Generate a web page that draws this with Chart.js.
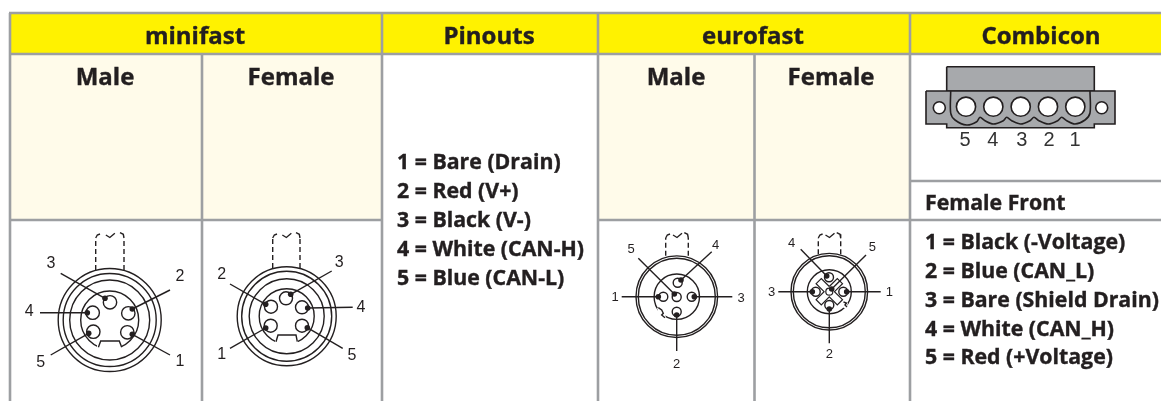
<!DOCTYPE html>
<html>
<head>
<meta charset="utf-8">
<title>Connector pinouts</title>
<script src="https://cdn.jsdelivr.net/npm/chart.js@4/dist/chart.umd.min.js"></script>
<style>
  html, body { margin: 0; padding: 0; background: #fff; }
  canvas { display: block; }
</style>
</head>
<body>
<canvas id="table" width="1161" height="401"></canvas>
<script>
// table text
var columnTitles = ["minifast", "Pinouts", "eurofast", "Combicon"];
var genderTitles = ["Male", "Female", "Male", "Female"];
var pinoutLines = ["1 = Bare (Drain)", "2 = Red (V+)", "3 = Black (V-)", "4 = White (CAN-H)", "5 = Blue (CAN-L)"];
var combiconTitle = "Female Front";
var combiconLines = ["1 = Black (-Voltage)", "2 = Blue (CAN_L)", "3 = Bare (Shield Drain)", "4 = White (CAN_H)", "5 = Red (+Voltage)"];
var combiconPins = ["5", "4", "3", "2", "1"];

// table rules, in the 1161x401 coordinate system of the scales
var titleX = [195, 489, 753, 1041];
var genderX = [105, 291, 676, 831];
var pinoutY = [169, 198, 227, 256, 285];
var combiconY = [249, 278, 307, 336, 364];
var ruleLines = [
    [[9, 13], [1161, 13]], [[9, 54], [1161, 54]],
    [[9, 220], [382, 220]], [[598, 220], [1161, 220]], [[910, 181], [1161, 181]],
    [[10, 13], [10, 401]], [[202, 54], [202, 401]], [[382, 13], [382, 401]],
    [[598, 13], [598, 401]], [[754.5, 54], [754.5, 401]], [[910, 13], [910, 401]]
];

// round connectors
var miniMale = {
    center: [109.7, 320], rings: [51.5, 46.5, 40, 29], pinR: 6.7,
    pins: [[127.3, 332.3], [128.3, 313.3], [110, 302.3], [92.7, 312.7], [93.3, 331.7]],
    dots: [[132.3, 334.3], [132.3, 309], [105, 298.3], [87.3, 312.7], [88.7, 333.3]],
    ends: [[170, 355], [170, 290], [60.7, 273.3], [40, 312.7], [50.7, 355]],
    labels: [[180, 362], [180, 277], [51, 264], [29.3, 312], [40.7, 363]], fontSize: 16,
    stem: [95.7, 124, 270, 238],
    gap: [[97, 344], [122, 344], [122, 352], [97, 352]],
    notch: [[98.4, 347.3], [100.7, 341], [119.3, 341], [121.7, 347.3]]
};
var miniFemale = {
    center: [286.7, 316.3], rings: [49.5, 45, 37.5, 27.5], pinR: 6.5,
    pins: [[270.7, 325.7], [271, 306.7], [286, 298.3], [302, 307.3], [302, 325.7]],
    dots: [[265.7, 328], [265.7, 304.3], [290.7, 294.3], [307.7, 308], [307.3, 327.7]],
    ends: [[230, 348.3], [230, 284], [331.7, 271], [352.7, 307.3], [342.7, 348.3]],
    labels: [[221.7, 354.3], [221.7, 275], [339.3, 262.3], [361, 307.7], [352, 355.7]], fontSize: 16,
    stem: [272.7, 300, 268, 238],
    gap: [[275, 339], [298, 339], [298, 347], [275, 347]],
    notch: [[276, 341.7], [278, 335], [296, 335], [297.3, 341.7]]
};
var euroMale = {
    center: [676.8, 296.7], rings: [40.8, 38.5, 22.7], pinR: 4.5,
    pins: [[663.3, 296.7], [676.7, 311.7], [691.7, 296.7], [677.7, 282.7], [676.7, 297]],
    dots: [[658.3, 296.7], [676.7, 315], [694.3, 296.7], [681, 280], [674.3, 294]],
    ends: [[621.7, 296.7], [676.7, 351], [732.3, 296.7], [711.7, 251.7], [638.3, 258.3]],
    labels: [[615, 297], [676.7, 364], [741, 298], [715.7, 245], [631, 249.3]], fontSize: 13,
    stem: [665.7, 688.3, 255.7, 238],
    gap: [[657, 308], [664, 308], [666, 318], [659, 315]],
    notch: [[658.3, 307.7], [661.7, 310], [663.3, 313.3], [661.7, 315], [665, 317.7]]
};
var euroFemale = {
    center: [829.3, 291.7], rings: [38.3, 36, 22], pinR: 4.5,
    pins: [[843.3, 291.7], [829.3, 305], [815.7, 291.7], [829, 277.3]],
    dots: [[846.7, 291.7], [829.3, 309], [812.3, 291.7], [826.7, 276], [831.7, 289]],
    ends: [[880.7, 291.7], [829.3, 343.3], [778.3, 291.7], [800.7, 249.3], [866, 255]],
    labels: [[889.3, 292.3], [829.3, 354.3], [771.7, 292.3], [791.7, 243.3], [872.3, 247.3]], fontSize: 13,
    stem: [818.3, 840.7, 254.3, 238],
    gap: [[843, 300], [848, 303], [846, 309], [841, 306]],
    notch: [[843.5, 302], [846.5, 303], [845, 305], [847, 307]],
    cross: [[829.3, 286.5], [837.3, 278.5], [842.5, 283.7], [834.5, 291.7], [842.5, 299.7], [837.3, 304.9],
            [829.3, 296.9], [821.3, 304.9], [816.1, 299.7], [824.1, 291.7], [816.1, 283.7], [821.3, 278.5]],
    crossPin: [829.3, 291.7]
};
var roundConnectors = [miniMale, miniFemale, euroMale, euroFemale];

// combicon plug
var plugTop = [[946.7, 66.7], [1094.3, 66.7], [1094.3, 91], [946.7, 91]];
var plugBody = [[926, 91], [1115, 91], [1115, 124], [1094.3, 124], [1094.3, 127.7], [946.7, 127.7], [946.7, 124], [926, 124]];
var plugScallop = [[950.7, 91], [950.7, 113], [955, 120], [966.7, 125], [976.7, 121.7], [980, 117.3], [985, 120.7], [993.3, 124],
    [1003.3, 120.7], [1006.7, 117.3], [1011.7, 120.7], [1020.7, 124], [1030, 120.7], [1034, 117.3], [1039, 120.7], [1048.3, 124],
    [1057.7, 120.7], [1061.7, 117.3], [1066.7, 120.7], [1075, 124], [1085, 120], [1090, 113], [1090, 91]];
var plugHoles = [[966, 106.7], [993.3, 106.7], [1020.7, 106.7], [1048, 106.7], [1075.3, 106.7]];
var plugScrews = [[939.3, 107.7], [1101.7, 107.7]];
var plugLabelX = [965, 992.7, 1021.7, 1049, 1075];

var INK = "#231f20";
var RULE = "#9d9fa2";
var PEN = 1.4;

var datasets = [];
function xy(p) { return {x: p[0], y: p[1]}; }
function add(ds) {
    // a lower order is painted later, so each added set lands on top
    ds.order = -datasets.length;
    datasets.push(ds);
}
function line(points, color, width, dash, tension) {
    add({data: points.map(xy), showLine: true, pointRadius: 0, borderColor: color, borderWidth: width,
         borderDash: dash || [], tension: tension || 0, fill: false});
}
function shape(points, fillColor, stroke, width) {
    add({data: points.concat([points[0]]).map(xy), showLine: true, pointRadius: 0, tension: 0, fill: "shape",
         backgroundColor: fillColor, borderColor: stroke || "transparent", borderWidth: width || 0});
}
function circles(points, r, fillColor, stroke, width) {
    add({data: points.map(xy), showLine: false, pointStyle: "circle", pointRadius: r, pointBackgroundColor: fillColor,
         pointBorderColor: stroke, pointBorderWidth: width});
}
function box(x0, y0, x1, y1, color) {
    shape([[x0, y0], [x1, y0], [x1, y1], [x0, y1]], color);
}

box(10, 13, 1161, 54, "#fff200");
box(10, 54, 382, 220, "#fffbea");
box(598, 54, 910, 220, "#fffbea");
ruleLines.forEach(function(r) { line(r, RULE, 2.6); });

roundConnectors.forEach(function(c) {
    var s = c.stem;
    var mid = (s[0] + s[1]) / 2;
    var top = s[3];
    line([[s[0], s[2]], [s[0], top]], INK, PEN, [5, 3]);
    line([[s[1], s[2]], [s[1], top]], INK, PEN, [5, 3]);
    line([[s[0], top], [s[0] + 1.6, top - 3], [s[0] + 4.3, top - 4]], INK, PEN);
    line([[mid - 4, top - 3], [mid, top - 0.5], [mid + 5, top - 4.7]], INK, PEN);
    line([[s[1] - 4, top - 5.3], [s[1] - 0.7, top - 3.7], [s[1], top]], INK, PEN);

    circles([c.center], c.rings[0], "#fff", INK, PEN);
    c.rings.slice(1).forEach(function(r) { circles([c.center], r, "transparent", INK, PEN); });
    shape(c.gap, "#fff");
    line(c.notch, INK, PEN);
    if (c.cross) {
        shape(c.cross, "#fff", INK, 1.2);
    }
    circles(c.pins, c.pinR, "#fff", INK, PEN);
    if (c.crossPin) {
        circles([c.crossPin], 3.5, "#fff", INK, 1.2);
    }
    c.dots.forEach(function(d, i) { line([c.ends[i], d], INK, PEN); });
    circles(c.dots, 2.8, INK, INK, 0);
});

shape(plugTop, "#a7a9ac", INK, 1.6);
shape(plugBody, "#a7a9ac", INK, 1.6);
line(plugScallop, INK, 1.6, null, 0.3);
circles(plugHoles, 9.6, "#fff", INK, 1.6);
circles(plugScrews, 6, "#fff", INK, 1.6);

// text goes on after the marks, placed through the same scales
var HEAD_FONT = '"Open Sans", "Noto Sans", sans-serif';
var PIN_FONT = '"Liberation Sans", Arial, sans-serif';
var textPlugin = {
    id: "tableText",
    afterDatasetsDraw: function(chart) {
        var ctx = chart.ctx;
        var sx = chart.scales.x, sy = chart.scales.y;
        function put(str, x, y, font, align, base, color, heavy) {
            ctx.font = font;
            ctx.textAlign = align;
            ctx.textBaseline = base;
            ctx.fillStyle = color || INK;
            ctx.fillText(str, sx.getPixelForValue(x), sy.getPixelForValue(y));
            if (heavy) {
                // the original face is a little blacker than Open Sans Bold
                ctx.strokeStyle = color || INK;
                ctx.lineWidth = 0.4;
                ctx.strokeText(str, sx.getPixelForValue(x), sy.getPixelForValue(y));
            }
        }
        ctx.save();
        var headFont = "bold 24px " + HEAD_FONT;
        var bodyFont = "bold 21.3px " + HEAD_FONT;
        columnTitles.forEach(function(t, i) { put(t, titleX[i], 44, headFont, "center", "alphabetic", INK, true); });
        genderTitles.forEach(function(t, i) { put(t, genderX[i], 85, headFont, "center", "alphabetic", INK, true); });
        pinoutLines.forEach(function(t, i) { put(t, 397, pinoutY[i], bodyFont, "left", "alphabetic", INK, true); });
        put(combiconTitle, 925, 210, bodyFont, "left", "alphabetic", INK, true);
        combiconLines.forEach(function(t, i) { put(t, 925, combiconY[i], bodyFont, "left", "alphabetic", INK, true); });
        roundConnectors.forEach(function(c) {
            c.labels.forEach(function(p, i) {
                put(String(i + 1), p[0], p[1], c.fontSize + "px " + PIN_FONT, "center", "middle");
            });
        });
        combiconPins.forEach(function(t, i) { put(t, plugLabelX[i], 140.5, "20px " + PIN_FONT, "center", "middle", "#333"); });
        ctx.restore();
    }
};

new Chart(document.getElementById("table").getContext("2d"), {
    type: "scatter",
    data: {datasets: datasets},
    plugins: [textPlugin],
    options: {
        responsive: false,
        animation: false,
        events: [],
        layout: {padding: 0, autoPadding: false},
        plugins: {legend: {display: false}, tooltip: {enabled: false}, title: {display: false}},
        scales: {
            x: {type: "linear", min: 0, max: 1161, display: false},
            y: {type: "linear", min: 0, max: 401, reverse: true, display: false}
        }
    }
});
</script>
</body>
</html>
